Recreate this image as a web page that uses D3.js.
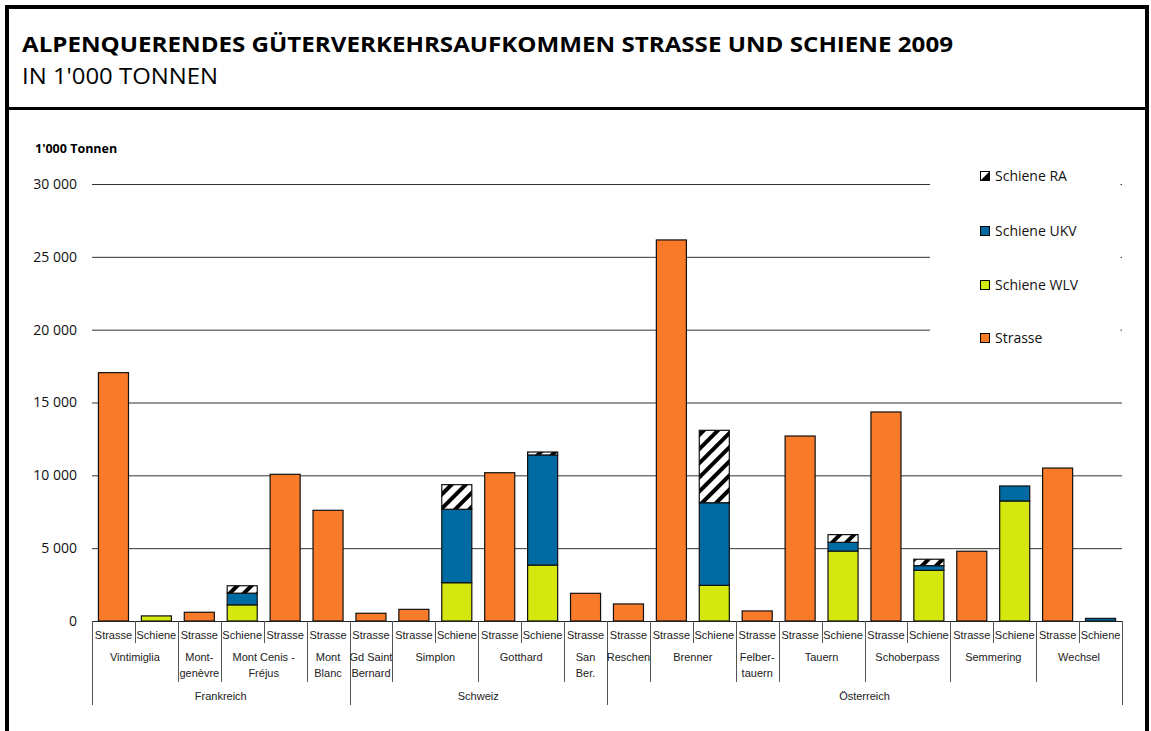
<!DOCTYPE html>
<html><head><meta charset="utf-8">
<script src="https://cdn.jsdelivr.net/npm/d3@7/dist/d3.min.js"></script>
<style>body{margin:0;background:#fff}svg{display:block}</style>
</head><body>
<svg id="c" width="1151" height="731"></svg>
<script>
// ---- data ----
const barTypes = ["Strasse","Schiene","Strasse","Schiene","Strasse","Strasse","Strasse","Strasse","Schiene","Strasse","Schiene","Strasse","Strasse","Strasse","Schiene","Strasse","Strasse","Schiene","Strasse","Schiene","Strasse","Schiene","Strasse","Schiene"];
const barPass = ["Vintimiglia","Vintimiglia","Mont-genèvre","Mont Cenis - Fréjus","Mont Cenis - Fréjus","Mont Blanc","Gd Saint Bernard","Simplon","Simplon","Gotthard","Gotthard","San Ber.","Reschen","Brenner","Brenner","Felbertauern","Tauern","Tauern","Schoberpass","Schoberpass","Semmering","Semmering","Wechsel","Wechsel"];
const passLines = {"Mont-genèvre":["Mont-","genèvre"],"Mont Cenis - Fréjus":["Mont Cenis -","Fréjus"],"Mont Blanc":["Mont","Blanc"],"Gd Saint Bernard":["Gd Saint","Bernard"],"San Ber.":["San","Ber."],"Felbertauern":["Felber-","tauern"]};
const countries = ["Frankreich","Schweiz","Österreich"];
const countryPasses = [
  ["Vintimiglia","Mont-genèvre","Mont Cenis - Fréjus","Mont Blanc"],
  ["Gd Saint Bernard","Simplon","Gotthard","San Ber."],
  ["Reschen","Brenner","Felbertauern","Tauern","Schoberpass","Semmering","Wechsel"]
];
const strasse = [17050,0,600,0,10070,7600,530,800,0,10180,0,1900,1170,26160,0,690,12700,0,14350,0,4790,0,10500,0];
const wlv     = [0,350,0,1110,0,0,0,0,2630,0,3840,0,0,0,2450,0,0,4800,0,3480,0,8240,0,0];
const ukv     = [0,0,0,800,0,0,0,0,5040,0,7560,0,0,0,5670,0,0,600,0,320,0,1030,0,180];
const ra      = [0,0,0,510,0,0,0,0,1690,0,200,0,0,0,4970,0,0,530,0,440,0,0,0,0];
const yTicks = [0,5000,10000,15000,20000,25000,30000];
const seriesKeys = ["Strasse","Schiene WLV","Schiene UKV","Schiene RA"];
const legendOrder = ["Schiene RA","Schiene UKV","Schiene WLV","Strasse"];
const colors = {"Strasse":"#F97A28","Schiene WLV":"#D4E80F","Schiene UKV":"#006BA3","Schiene RA":"url(#hatch)"};

const svg = d3.select("#c");
const defs = svg.append("defs");
const pat = defs.append("pattern").attr("id","hatch").attr("patternUnits","userSpaceOnUse")
  .attr("width",10).attr("height",10).attr("patternTransform","rotate(45)");
pat.append("rect").attr("width",10).attr("height",10).attr("fill","#fff");
pat.append("rect").attr("x",0).attr("width",4).attr("height",10).attr("fill","#000");

// frame
svg.append("rect").attr("x",7).attr("y",7).attr("width",1140).attr("height",740)
  .attr("fill","none").attr("stroke","#000").attr("stroke-width",4);
svg.append("line").attr("x1",7).attr("x2",1147).attr("y1",108.5).attr("y2",108.5).attr("stroke","#000").attr("stroke-width",3);

svg.append("text").attr("x",22).attr("y",52).attr("font-family","'Open Sans', sans-serif").attr("font-weight","bold")
  .attr("font-size",21).attr("textLength",931).attr("lengthAdjust","spacingAndGlyphs")
  .text("ALPENQUERENDES GÜTERVERKEHRSAUFKOMMEN STRASSE UND SCHIENE 2009");
svg.append("text").attr("x",22).attr("y",84).attr("font-family","'Open Sans', sans-serif")
  .attr("font-size",21).attr("textLength",196).attr("lengthAdjust","spacingAndGlyphs")
  .text("IN 1'000 TONNEN");

const x = d3.scaleBand().domain(d3.range(barTypes.length)).range([92,1122]).paddingInner(0.3).paddingOuter(0.15);
const y = d3.scaleLinear().domain([0,30000]).range([621,184]);

svg.append("text").attr("x",35).attr("y",153).attr("font-family","'Open Sans', sans-serif").attr("font-weight","bold")
  .attr("font-size",12.5).text("1'000 Tonnen");

// gridlines
const yAxis = d3.axisLeft(y).tickValues(yTicks).tickSize(-(1122-92)).tickPadding(15)
  .tickFormat(d => d3.format(",")(d).replace(/,/g," "));
const ga = svg.append("g").attr("transform","translate(92,0)").call(yAxis);
ga.select(".domain").remove();
ga.selectAll(".tick line").attr("stroke","#333").attr("stroke-width",1);
ga.selectAll(".tick text").attr("font-family","'Open Sans', sans-serif").attr("font-size",14).attr("fill","#111");

// legend box covering grid
svg.append("rect").attr("x",930).attr("y",160).attr("width",190.5).attr("height",190).attr("fill","#fff");

// bars
const rows = barTypes.map((t,i)=>({i,"Strasse":strasse[i],"Schiene WLV":wlv[i],"Schiene UKV":ukv[i],"Schiene RA":ra[i]}));
const stacked = d3.stack().keys(seriesKeys)(rows);
svg.append("g").selectAll("g").data(stacked).join("g")
  .attr("fill", d => colors[d.key])
  .selectAll("rect").data(d => d.filter(s => s[1]-s[0] > 0)).join("rect")
  .attr("x", d => x(d.data.i)).attr("width", x.bandwidth())
  .attr("y", d => y(d[1])).attr("height", d => y(d[0]) - y(d[1]))
  .attr("stroke","#111").attr("stroke-width",1.2);

// baseline
svg.append("line").attr("x1",92).attr("x2",1122).attr("y1",621.5).attr("y2",621.5).attr("stroke","#222");

// x-axis labels
const step = x.step();
const left = i => x(i) - x.paddingInner()*step/2;
const lab = svg.append("g").attr("font-family","'Liberation Sans', Arial, sans-serif").attr("font-size",11).attr("fill","#222").attr("text-anchor","middle");
const sep = (xx,y2) => lab.append("line").attr("x1",Math.round(xx)+0.5).attr("x2",Math.round(xx)+0.5).attr("y1",621).attr("y2",y2).attr("stroke","#555");
barTypes.forEach((t,i)=>{
  lab.append("text").attr("x",x(i)+x.bandwidth()/2).attr("y",639).text(t);
});
// separators
const passStart = i => i===0 || barPass[i]!==barPass[i-1];
const countryOf = p => countryPasses.findIndex(a=>a.includes(p));
for (let i=0;i<=barTypes.length;i++){
  const xx = i<barTypes.length ? left(i) : 1122;
  let y2;
  if (i===0 || i===barTypes.length || countryOf(barPass[i])!==countryOf(barPass[i-1])) y2=705;
  else if (passStart(i)) y2=682;
  else y2=643;
  sep(xx,y2);
}
// pass labels
const passNames = Array.from(new Set(barPass));
passNames.forEach(p=>{
  const idx = barPass.map((q,i)=>q===p?i:-1).filter(i=>i>=0);
  const cx = (left(idx[0]) + left(idx[idx.length-1]) + step)/2;
  const lines = passLines[p] || [p];
  lines.forEach((l,k)=> lab.append("text").attr("x",cx).attr("y",661+k*16).text(l));
});
countries.forEach((c,ci)=>{
  const idx = barPass.map((q,i)=>countryOf(q)===ci?i:-1).filter(i=>i>=0);
  const cx = (left(idx[0]) + left(idx[idx.length-1]) + step)/2;
  lab.append("text").attr("x",cx).attr("y",700).text(c);
});

// legend
const lg = svg.append("g").attr("font-family","'Open Sans', sans-serif").attr("font-size",14).attr("fill","#111");
legendOrder.forEach((k,j)=>{
  const yy = [176,231,285,338][j];
  if (k==="Schiene RA"){
    lg.append("rect").attr("x",980.5).attr("y",yy-4.5).attr("width",9).attr("height",9).attr("fill","#fff").attr("stroke","#000");
    lg.append("path").attr("d",`M${980.5},${yy+4.5} L${989.5},${yy-4.5} L${989.5},${yy+4.5} Z`).attr("fill","#000");
  } else {
    lg.append("rect").attr("x",980.5).attr("y",yy-4.5).attr("width",9).attr("height",9).attr("fill",colors[k]).attr("stroke","#000");
  }
  lg.append("text").attr("x",995).attr("y",yy+5).text(k);
});
</script>
</body></html>
